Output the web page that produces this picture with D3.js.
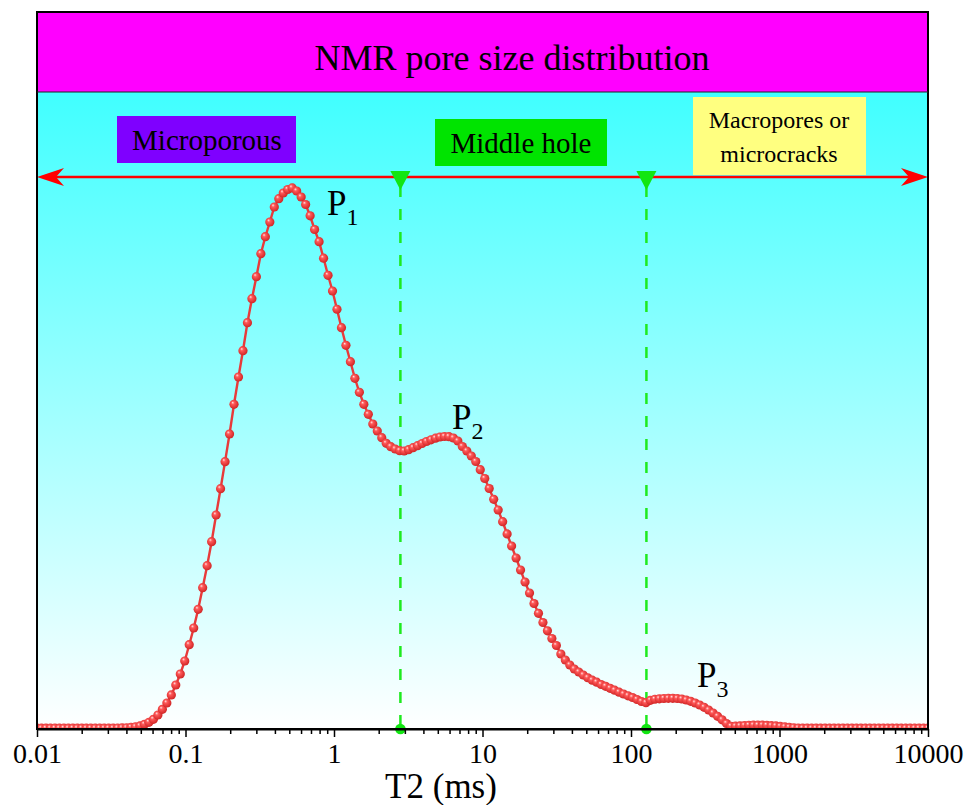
<!DOCTYPE html>
<html>
<head>
<meta charset="utf-8">
<script src="https://cdn.jsdelivr.net/npm/d3@7"></script>
<style>
body{margin:0;background:#fff;}
svg, svg text{font-family:"Liberation Serif","Times New Roman",serif !important;}
</style>
</head>
<body>
<div id="chart"></div>
<script>
const w = 978;
const h = 805;
const xLeft = 37, xRight = 928;
const yTop = 12, yBand = 92, yBottom = 729;

// NMR T2 amplitude, one value per sample of the log grid (0.01 .. 10000 ms)
const amplitude = [
  0.15,0.15,0.15,0.15,0.15,0.15,0.15,0.15,0.15,0.15,
  0.15,0.15,0.15,0.15,0.15,0.15,0.15,0.15,0.18,0.21,
  0.23,0.32,0.41,0.57,0.89,1.26,1.83,2.64,3.71,4.90,
  6.41,8.29,10.36,12.81,15.88,19.03,22.55,26.62,30.76,35.28,
  40.31,45.27,50.36,55.57,61.17,66.31,71.27,76.54,81.06,85.21,
  89.54,92.74,95.51,98.34,99.90,100.97,101.63,101.92,101.35,100.22,
  98.81,96.68,94.10,91.80,88.69,85.47,82.51,79.07,75.60,72.28,
  69.19,66.07,63.43,61.17,59.28,57.46,56.14,54.88,53.82,53.18,
  52.75,52.43,52.37,52.62,52.99,53.37,53.78,54.16,54.48,54.78,
  55.01,55.10,55.07,54.82,54.25,53.22,52.37,51.43,50.39,48.85,
  47.19,45.31,43.27,41.26,39.05,36.74,34.47,32.21,29.95,27.69,
  25.62,23.64,21.80,20.06,18.50,17.05,15.73,14.13,13.00,12.06,
  11.30,10.74,10.17,9.65,9.19,8.82,8.38,8.04,7.67,7.31,
  6.93,6.59,6.25,5.93,5.56,5.18,4.95,5.41,5.60,5.69,
  5.75,5.78,5.78,5.75,5.65,5.46,5.22,4.90,4.52,4.09,
  3.58,3.01,2.39,1.73,1.04,0.51,0.53,0.57,0.64,0.70,
  0.72,0.72,0.72,0.68,0.62,0.57,0.49,0.40,0.32,0.24,
  0.19,0.15,0.15,0.15,0.15,0.15,0.15,0.15,0.15,0.15,
  0.15,0.15,0.15,0.15,0.15,0.15,0.15,0.15,0.15,0.15,
  0.15,0.15,0.15,0.15,0.15,0.15,0.15,0.15,0.15,0.15
];
// instrument sampling grid: log spaced T2 (ms)
const t2 = amplitude.map((d, i) => 0.01 * Math.pow(10, 6 * i / (amplitude.length - 1)));

const majorTicks = [0.01, 0.1, 1, 10, 100, 1000, 10000];
const majorLabels = ["0.01", "0.1", "1", "10", "100", "1000", "10000"];
const boundaries = [2.8, 127];
const zoneNames = ["Microporous", "Middle hole", "Macropores or", "microcracks"];
const peakNames = ["1", "2", "3"];
const chartTitle = "NMR pore size distribution";
const xTitle = "T2 (ms)";

const serif = '"Liberation Serif","Times New Roman",serif';

const svg = d3.select("#chart")
  .append('svg')
  .attr('width', w)
  .attr('height', h)
  .style('font-family', serif);

const defs = svg.append('defs');
const bg = defs.append('linearGradient').attr('id', 'bg')
  .attr('x1', 0).attr('y1', 0).attr('x2', 0).attr('y2', 1);
bg.append('stop').attr('offset', '0%').attr('stop-color', '#40ffff');
bg.append('stop').attr('offset', '100%').attr('stop-color', '#ffffff');

const ball = defs.append('radialGradient').attr('id', 'ball')
  .attr('cx', '45%').attr('cy', '45%').attr('r', '60%')
  .attr('fx', '35%').attr('fy', '30%');
ball.append('stop').attr('offset', '0%').attr('stop-color', '#ffe4e4');
ball.append('stop').attr('offset', '28%').attr('stop-color', '#ff5a5a');
ball.append('stop').attr('offset', '100%').attr('stop-color', '#cc2020');

defs.append('clipPath').attr('id', 'plotClip')
  .append('rect').attr('x', xLeft).attr('y', yBand)
  .attr('width', xRight - xLeft).attr('height', yBottom - yBand);

//Scales
const xScale = d3.scaleLog().domain([0.01, 10000]).range([xLeft, xRight]);
const yScale = d3.scaleLinear().domain([0, 120]).range([yBottom, yBand]);

//Background panels
svg.append('rect')
  .attr('x', xLeft).attr('y', yBand)
  .attr('width', xRight - xLeft).attr('height', yBottom - yBand)
  .attr('fill', 'url(#bg)');
svg.append('rect')
  .attr('x', xLeft).attr('y', yTop)
  .attr('width', xRight - xLeft).attr('height', yBand - yTop)
  .attr('fill', '#ff00ff');

svg.append('text')
  .attr('x', 512).attr('y', 70)
  .attr('text-anchor', 'middle')
  .attr('font-size', 36)
  .text(chartTitle);

//Zone labels
const zones = svg.append('g');
zones.append('rect').attr('x', 117).attr('y', 116).attr('width', 179).attr('height', 47).attr('fill', '#7f00ff');
zones.append('text').attr('x', 207).attr('y', 150).attr('text-anchor', 'middle').attr('font-size', 29).text(zoneNames[0]);
zones.append('rect').attr('x', 435).attr('y', 119).attr('width', 172).attr('height', 47).attr('fill', '#00e400');
zones.append('text').attr('x', 521).attr('y', 153).attr('text-anchor', 'middle').attr('font-size', 29).text(zoneNames[1]);
zones.append('rect').attr('x', 693).attr('y', 97).attr('width', 173).attr('height', 78).attr('fill', '#ffff80');
zones.append('text').attr('x', 779).attr('y', 128).attr('text-anchor', 'middle').attr('font-size', 24).text(zoneNames[2]);
zones.append('text').attr('x', 779).attr('y', 162).attr('text-anchor', 'middle').attr('font-size', 24).text(zoneNames[3]);

//Red double arrow
const arrowY = 177;
svg.append('line')
  .attr('x1', xLeft + 6).attr('x2', xRight - 6)
  .attr('y1', arrowY).attr('y2', arrowY)
  .attr('stroke', '#ff0000').attr('stroke-width', 2.6);
svg.append('path')
  .attr('d', `M${xLeft},${arrowY} L${xLeft + 27},${arrowY - 9} L${xLeft + 19},${arrowY} L${xLeft + 27},${arrowY + 9} Z`)
  .attr('fill', '#ff0000');
svg.append('path')
  .attr('d', `M${xRight},${arrowY} L${xRight - 27},${arrowY - 9} L${xRight - 19},${arrowY} L${xRight - 27},${arrowY + 9} Z`)
  .attr('fill', '#ff0000');

//Boundary lines
const bnd = svg.append('g').selectAll('g').data(boundaries).enter().append('g');
bnd.append('line')
  .attr('x1', d => xScale(d)).attr('x2', d => xScale(d))
  .attr('y1', 186).attr('y2', yBottom)
  .attr('stroke', '#1eea1e').attr('stroke-width', 2.5)
  .attr('stroke-dasharray', '11,12');
bnd.append('path')
  .attr('d', d => `M${xScale(d) - 10},171 L${xScale(d) + 10},171 L${xScale(d)},190 Z`)
  .attr('fill', '#12e612');

//Curve
const plot = svg.append('g').attr('clip-path', 'url(#plotClip)');
const line = d3.line()
  .x((d, i) => xScale(t2[i]))
  .y(d => yScale(d));
plot.append('path')
  .datum(amplitude)
  .attr('d', line)
  .attr('fill', 'none')
  .attr('stroke', '#e83a3a')
  .attr('stroke-width', 2.4);
plot.append('g')
  .selectAll('circle')
  .data(amplitude)
  .enter()
  .append('circle')
  .attr('cx', (d, i) => xScale(t2[i]))
  .attr('cy', d => yScale(d))
  .attr('r', 4.6)
  .attr('fill', 'url(#ball)');

//Bottom dots of boundaries
svg.append('g').selectAll('circle').data(boundaries).enter().append('circle')
  .attr('cx', d => xScale(d)).attr('cy', yBottom)
  .attr('r', 5.3).attr('fill', '#12e612');

//Peak labels
const peakPos = [[327, 215], [452, 429], [697, 687]];
peakPos.forEach((p, i) => {
  const t = svg.append('text').attr('x', p[0]).attr('y', p[1]).attr('font-size', 35);
  t.append('tspan').text('P');
  t.append('tspan').attr('dy', 10).attr('font-size', 24).text(peakNames[i]);
});

//Axis
const minorTicks = [];
majorTicks.slice(0, -1).forEach(m => { for (let k = 2; k < 10; k++) minorTicks.push(m * k); });
const xAxis = d3.axisBottom(xScale).tickValues(majorTicks)
  .tickFormat((d, i) => majorLabels[i]).tickSize(8).tickSizeOuter(0).tickPadding(6);
const xMinor = d3.axisBottom(xScale).tickValues(minorTicks)
  .tickFormat('').tickSize(5).tickSizeOuter(0);

svg.append('g').attr('transform', `translate(0,${yBottom})`).call(xMinor)
  .call(g => g.select('.domain').remove())
  .call(g => g.selectAll('line').attr('stroke', '#000').attr('stroke-width', 1.5));
svg.append('g').attr('transform', `translate(0,${yBottom})`).call(xAxis)
  .attr('font-family', serif)
  .call(g => g.select('.domain').attr('stroke', '#000').attr('stroke-width', 2))
  .call(g => g.selectAll('line').attr('stroke', '#000').attr('stroke-width', 1.5))
  .call(g => g.selectAll('text').attr('font-size', 28).attr('fill', '#000')
    .style('font-family', serif));

svg.append('text')
  .attr('x', 441).attr('y', 798)
  .attr('text-anchor', 'middle')
  .attr('font-size', 35)
  .text(xTitle);

//Frame
svg.append('rect')
  .attr('x', xLeft).attr('y', yTop)
  .attr('width', xRight - xLeft).attr('height', yBottom - yTop)
  .attr('fill', 'none').attr('stroke', '#000').attr('stroke-width', 2);
svg.append('line')
  .attr('x1', xLeft).attr('x2', xRight).attr('y1', yBand).attr('y2', yBand)
  .attr('stroke', '#222').attr('stroke-width', 1.2);
</script>
</body>
</html>
